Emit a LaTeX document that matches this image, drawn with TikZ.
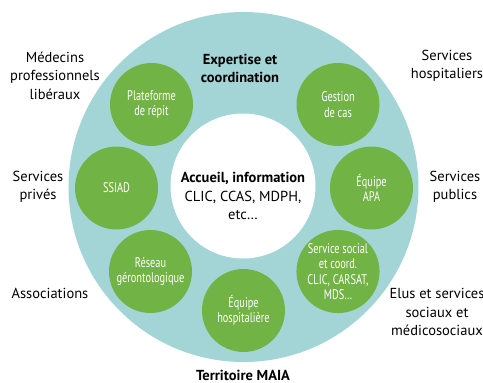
\documentclass[tikz,border=0pt]{standalone}
\usepackage{fontspec}
\setmainfont{PT Sans}
\newfontfamily\condfont[FakeStretch=0.74]{PT Sans}
\definecolor{teal}{HTML}{A3D5D6}
\definecolor{leaf}{HTML}{72B345}
\begin{document}
\begin{tikzpicture}[x=1pt,y=-1pt,
  lbl/.style={align=center,font=\fontsize{14.5}{18.5}\selectfont,text=black,inner sep=0pt},
  blbl/.style={lbl,font=\fontsize{14.5}{18.5}\selectfont\bfseries},
  dot/.style={circle,fill=leaf,minimum size=83pt,inner sep=0pt,align=center,text=white,font=\condfont\fontsize{14}{15.5}\selectfont}]
\useasboundingbox (0,0) rectangle (483,383);
\clip (0,0) rectangle (483,383);
\fill[white] (0,0) rectangle (483,383);
\node[circle,fill=teal,minimum size=350pt,inner sep=0pt] (ring) at (243.5,187) {};
\node[circle,fill=white,minimum size=145pt,inner sep=0pt] (hub) at (243,186) {};
\node[dot] (plat) at (151.5,104.5) {Plateforme\\de répit};
\node[dot] (gest) at (338,104.5) {Gestion\\de cas};
\node[dot] (ssiad) at (116.5,188) {SSIAD};
\node[dot] (apa) at (371.5,188) {Équipe\\APA};
\node[dot] (reseau) at (150.5,271.5) {Réseau\\gérontologique};
\node[dot] (social) at (338,271.5) {Service social\\et coord.\\CLIC, CARSAT,\\MDS…};
\node[dot] (hosp) at (243.5,310.5) {Équipe\\hospitalière};
\node[lbl] (accueil) at (243,196) {\textbf{Accueil, information}\\CLIC, CCAS, MDPH,\\etc…};
\node[blbl] (expert) at (240,68.5) {Expertise et\\coordination};
\node[lbl] (med) at (55,75.5) {Médecins\\professionnels\\libéraux};
\node[lbl] (shosp) at (447,66) {Services\\hospitaliers};
\node[lbl] (spriv) at (38,187) {Services\\privés};
\node[lbl] (spub) at (455,187) {Services\\publics};
\node[lbl] (assoc) at (50,293) {Associations};
\node[lbl] (elus) at (437,312) {Elus et services\\sociaux et\\médicosociaux};
\node[blbl] (terr) at (243,375) {Territoire MAIA};
\end{tikzpicture}
\end{document}
